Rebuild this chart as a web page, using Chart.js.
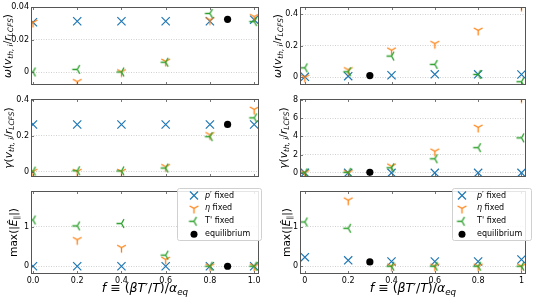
<!DOCTYPE html>
<html>
<head>
<meta charset="utf-8">
<script src="https://cdn.jsdelivr.net/npm/chart.js@4/dist/chart.umd.min.js"></script>
<style>
html, body { margin: 0; padding: 0; background: #fff; }
#wrap { position: relative; width: 533px; height: 299px; overflow: hidden; }
#wrap canvas { position: absolute; }
</style>
</head>
<body>
<div id="wrap">
	<canvas id="lTop"></canvas>
	<canvas id="lMid"></canvas>
	<canvas id="lBot"></canvas>
	<canvas id="rTop"></canvas>
	<canvas id="rMid"></canvas>
	<canvas id="rBot"></canvas>
</div>
<script>
// x values shared by every panel
const fValues = [0, 0.2, 0.4, 0.6, 0.8, 1.0];

// left column
const leftOmegaP = [0.0306, 0.0312, 0.0312, 0.0312, 0.0312, 0.0322];
const leftOmegaEta = [0.0305, -0.006, 0.0, 0.0065, 0.032, 0.034];
const leftOmegaT = [0.0, 0.0016, 0.0, 0.006, 0.036, 0.031];
const leftGammaP = [0.263, 0.263, 0.263, 0.263, 0.263, 0.263];
const leftGammaEta = [0.0, 0.0, 0.0, 0.027, 0.205, 0.347];
const leftGammaT = [0.003, 0.005, 0.004, 0.02, 0.195, 0.30];
const leftEP = [0, 0, 0, 0, 0, 0];
const leftEEta = [null, 0.67, 0.47, 0.17, 0, 0];
const leftET = [1.17, 1.02, 1.08, 0.28, 0, 0];
const leftEqF = 0.88;
const leftEq = [0.0324, 0.263, 0];

// right column
const rightOmegaP = [0.003, 0.007, 0.013, 0.019, 0.019, 0.018];
const rightOmegaEta = [0.0, 0.047, 0.172, 0.214, 0.298, 0.45];
const rightOmegaT = [0.06, 0.035, 0.135, 0.082, 0.018, -0.028];
const rightGammaP = [0, 0, 0, 0, 0, 0];
const rightGammaEta = [0, 0, 0.72, 2.36, 4.98, 8.2];
const rightGammaT = [0, 0.05, 0.55, 1.54, 2.76, 3.84];
const rightEP = [0.23, 0.15, 0.12, 0.12, 0.12, 0.17];
const rightEEta = [null, 1.67, 0, 0, 0, 0];
const rightET = [1.12, 0.96, 0, 0, 0, 0];
const rightEqF = 0.3;
const rightEq = [0.011, 0.05, 0.11];

// tick labels
const leftXTicks = ['0.0', '0.2', '0.4', '0.6', '0.8', '1.0'];
const rightXTicks = ['0', '0.2', '0.4', '0.6', '0.8', '1'];
const omegaLeftTicks = [0, 0.02, 0.04];
const gammaLeftTicks = [0, 0.2, 0.4];
const omegaRightTicks = [0, 0.2, 0.4];
const gammaRightTicks = [0, 2, 4, 6, 8];
const eTicks = [0, 1];

const seriesNames = ['p′ fixed', 'η fixed', "T' fixed", 'equilibrium'];

const BLUE = '#1f77b4', ORANGE = '#ff7f0e', GREEN = '#2ca02c';
const FONT = '"DejaVu Sans", sans-serif';

// matplotlib style tri markers ('1' = tri_down, '3' = tri_left)
function triMarker(color, angles) {
	const c = document.createElement('canvas');
	c.width = 13; c.height = 13;
	const g = c.getContext('2d');
	g.strokeStyle = color;
	g.lineWidth = 1.3;
	g.beginPath();
	angles.forEach(a => {
		const r = a * Math.PI / 180;
		g.moveTo(6.5, 6.5);
		g.lineTo(6.5 + Math.cos(r) * 5, 6.5 - Math.sin(r) * 5);
	});
	g.stroke();
	return c;
}
const triDown = triMarker(ORANGE, [270, 30, 150]);
const triLeft = triMarker(GREEN, [180, 60, -60]);

function pts(arr) {
	return fValues.map((f, i) => ({ x: f, y: arr[i] })).filter(p => p.y !== null);
}

function drawRuns(ctx, runs, size) {
	let w = 0;
	runs.forEach(r => {
		const s = r.sub ? size * 0.7 : size;
		ctx.font = (r.it ? 'italic ' : '') + s + 'px ' + FONT;
		r.w = ctx.measureText(r.t).width;
		w += r.w;
	});
	let x = -w / 2;
	runs.forEach(r => {
		const s = r.sub ? size * 0.7 : size;
		ctx.font = (r.it ? 'italic ' : '') + s + 'px ' + FONT;
		ctx.fillText(r.t, x, r.sub ? size * 0.28 : 0);
		x += r.w;
	});
}

const omegaLabel = [{ t: 'ω', it: true }, { t: '(' }, { t: 'v', it: true }, { t: 'th, i', it: true, sub: true }, { t: '/' }, { t: 'r', it: true }, { t: 'LCFS', it: true, sub: true }, { t: ')' }];
const gammaLabel = [{ t: 'γ', it: true }, { t: '(' }, { t: 'v', it: true }, { t: 'th, i', it: true, sub: true }, { t: '/' }, { t: 'r', it: true }, { t: 'LCFS', it: true, sub: true }, { t: ')' }];
const eLabel = [{ t: 'max(|' }, { t: 'Ê', it: true }, { t: '∥', sub: true }, { t: '|)' }];
const fLabel = [{ t: 'f', it: true }, { t: ' ≡ (' }, { t: 'β', it: true }, { t: 'T', it: true }, { t: '′/' }, { t: 'T', it: true }, { t: ')/' }, { t: 'α', it: true }, { t: 'eq', it: true, sub: true }];

function decor(p) {
	return {
		id: 'decor',
		afterDraw(chart) {
			const ctx = chart.ctx;
			const a = chart.chartArea;
			const xs = chart.scales.x, ys = chart.scales.y;
			ctx.save();
			// inward ticks
			ctx.strokeStyle = '#555';
			ctx.lineWidth = 0.8;
			ctx.beginPath();
			fValues.forEach(v => {
				const px = Math.round(xs.getPixelForValue(v)) + 0.5;
				ctx.moveTo(px, a.top); ctx.lineTo(px, a.top + 3);
				ctx.moveTo(px, a.bottom); ctx.lineTo(px, a.bottom - 3);
			});
			p.yTicks.forEach(v => {
				const py = Math.round(ys.getPixelForValue(v)) + 0.5;
				ctx.moveTo(a.left, py); ctx.lineTo(a.left + 3, py);
			});
			ctx.stroke();
			// frame
			ctx.strokeStyle = '#555';
			ctx.lineWidth = 1;
			ctx.strokeRect(a.left + 0.5, a.top + 0.5, a.right - a.left - 1, a.bottom - a.top - 1);
			// y label
			ctx.fillStyle = '#000';
			ctx.textBaseline = 'middle';
			ctx.save();
			ctx.translate(p.labelX, (a.top + a.bottom) / 2);
			ctx.rotate(-Math.PI / 2);
			drawRuns(ctx, p.yLabel, 10.6);
			ctx.restore();
			// x label
			if (p.bottom) {
				ctx.save();
				ctx.translate((a.left + a.right) / 2, a.bottom + 15);
				drawRuns(ctx, fLabel, 12.5);
				ctx.restore();
			}
			// legend
			if (p.legend) {
				const L = p.legend;
				ctx.fillStyle = 'rgba(255,255,255,0.85)';
				ctx.strokeStyle = '#d0d0d0';
				ctx.lineWidth = 1;
				ctx.beginPath();
				ctx.roundRect(L.x + 0.5, L.y + 0.5, L.w, L.h, 2);
				ctx.fill();
				ctx.stroke();
				const items = chart.data.datasets;
				items.forEach((ds, i) => {
					const cy = L.y + 7.5 + i * 12.9;
					const cx = L.mx;
					if (i === 0) {
						ctx.strokeStyle = BLUE; ctx.lineWidth = 1.2;
						ctx.beginPath();
						ctx.moveTo(cx - 4, cy - 4); ctx.lineTo(cx + 4, cy + 4);
						ctx.moveTo(cx - 4, cy + 4); ctx.lineTo(cx + 4, cy - 4);
						ctx.stroke();
					} else if (i === 1) {
						ctx.drawImage(triDown, cx - 6.5, cy - 6.5);
					} else if (i === 2) {
						ctx.drawImage(triLeft, cx - 6.5, cy - 6.5);
					} else {
						ctx.fillStyle = '#000';
						ctx.beginPath(); ctx.arc(cx, cy, 3.5, 0, Math.PI * 2); ctx.fill();
					}
					ctx.fillStyle = '#000';
					ctx.textBaseline = 'middle';
					ctx.font = '8px ' + FONT;
					if (i === 0) {
						ctx.font = 'italic 8px ' + FONT;
						ctx.fillText('p', L.tx, cy);
						const w = ctx.measureText('p').width;
						ctx.font = '8px ' + FONT;
						ctx.fillText('′ fixed', L.tx + w, cy);
					} else if (i === 1) {
						ctx.font = 'italic 8px ' + FONT;
						ctx.fillText('η', L.tx, cy);
						const w = ctx.measureText('η').width;
						ctx.font = '8px ' + FONT;
						ctx.fillText(' fixed', L.tx + w, cy);
					} else {
						ctx.fillText(ds.label, L.tx, cy);
					}
				});
			}
			ctx.restore();
		}
	};
}

function panel(id, p) {
	const el = document.getElementById(id);
	el.style.left = p.left + 'px';
	el.style.top = p.top + 'px';
	el.width = p.width;
	el.height = p.height;
	new Chart(el, {
		type: 'scatter',
		data: {
			datasets: [
				{ label: seriesNames[0], data: pts(p.series[0]), pointStyle: 'crossRot', pointRadius: 5.8, borderColor: BLUE, borderWidth: 1.2, order: 4, clip: 0 },
				{ label: seriesNames[1], data: pts(p.series[1]), pointStyle: triDown, pointRadius: 6, order: 3, clip: 0 },
				{ label: seriesNames[2], data: pts(p.series[2]), pointStyle: triLeft, pointRadius: 6, order: 2, clip: 0 },
				{ label: seriesNames[3], data: [{ x: p.eqF, y: p.eqY }], pointStyle: 'circle', pointRadius: 3.6, backgroundColor: '#000', borderColor: '#000', borderWidth: 0, order: 1, clip: 0 }
			]
		},
		options: {
			responsive: false,
			animation: false,
			events: [],
			layout: { padding: p.pad },
			plugins: { legend: { display: false }, tooltip: { enabled: false } },
			scales: {
				x: {
					type: 'linear', min: p.xMin, max: p.xMax,
					afterBuildTicks: s => { s.ticks = fValues.map(v => ({ value: v })); },
					afterFit: s => { s.height = p.xH; },
					ticks: {
						display: p.bottom, autoSkip: false, maxRotation: 0, padding: 2,
						color: '#000', font: { family: FONT, size: 8 },
						callback: (v, i) => p.xLabels[i]
					},
					grid: { display: false, drawTicks: false },
					border: { display: false }
				},
				y: {
					min: p.yMin, max: p.yMax,
					afterBuildTicks: s => { s.ticks = p.yTicks.map(v => ({ value: v })); },
					afterFit: s => { s.width = p.yW; },
					ticks: { padding: 2, color: '#000', font: { family: FONT, size: 8 }, callback: v => String(v) },
					grid: { color: '#c4c4c4', lineWidth: 0.8, drawTicks: false },
					border: { display: false, dash: [1, 1.5] }
				}
			}
		},
		plugins: [decor(p)]
	});
}

const leftBase = { left: 0, width: 266, yW: 31, xMin: -0.009, xMax: 1.022, xLabels: leftXTicks, eqF: leftEqF };
const rightBase = { left: 266, width: 267, yW: 34, xMin: -0.0225, xMax: 1.021, xLabels: rightXTicks, eqF: rightEqF };

panel('lTop', Object.assign({}, leftBase, {
	top: 0, height: 92, pad: { top: 3, bottom: 1, right: 3, left: 0 }, xH: 0,
	yMin: -0.008, yMax: 0.040, yTicks: omegaLeftTicks, series: [leftOmegaP, leftOmegaEta, leftOmegaT], eqY: leftEq[0],
	yLabel: omegaLabel, labelX: 8
}));
panel('lMid', Object.assign({}, leftBase, {
	top: 92, height: 92, pad: { top: 3, bottom: 2, right: 3, left: 0 }, xH: 0,
	yMin: -0.03, yMax: 0.405, yTicks: gammaLeftTicks, series: [leftGammaP, leftGammaEta, leftGammaT], eqY: leftEq[1],
	yLabel: gammaLabel, labelX: 9
}));
panel('lBot', Object.assign({}, leftBase, {
	top: 184, height: 115, pad: { top: 1, bottom: 0, right: 3, left: 0 }, xH: 25,
	yMin: -0.196, yMax: 1.903, yTicks: eTicks, series: [leftEP, leftEEta, leftET], eqY: leftEq[2],
	yLabel: eLabel, labelX: 14, bottom: true,
	legend: { x: 177, y: 4, w: 84, h: 52, mx: 194, tx: 205 }
}));
panel('rTop', Object.assign({}, rightBase, {
	top: 0, height: 92, pad: { top: 3, bottom: 1, right: 1, left: 0 }, xH: 0,
	yMin: -0.049, yMax: 0.447, yTicks: omegaRightTicks, series: [rightOmegaP, rightOmegaEta, rightOmegaT], eqY: rightEq[0],
	yLabel: omegaLabel, labelX: 12
}));
panel('rMid', Object.assign({}, rightBase, {
	top: 92, height: 92, pad: { top: 3, bottom: 2, right: 1, left: 0 }, xH: 0,
	yMin: -0.46, yMax: 8.1, yTicks: gammaRightTicks, series: [rightGammaP, rightGammaEta, rightGammaT], eqY: rightEq[1],
	yLabel: gammaLabel, labelX: 18
}));
panel('rBot', Object.assign({}, rightBase, {
	top: 184, height: 115, pad: { top: 1, bottom: 0, right: 1, left: 0 }, xH: 25,
	yMin: -0.196, yMax: 1.903, yTicks: eTicks, series: [rightEP, rightEEta, rightET], eqY: rightEq[2],
	yLabel: eLabel, labelX: 21, bottom: true,
	legend: { x: 186, y: 4, w: 79, h: 52, mx: 196, tx: 211 }
}));
</script>
</body>
</html>
